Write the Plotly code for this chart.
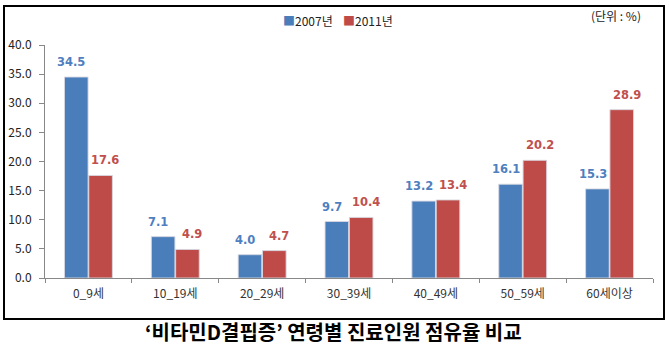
import plotly.graph_objects as go

categories = ["0_9세", "10_19세", "20_29세", "30_39세", "40_49세", "50_59세", "60세이상"]
y2007 = [34.5, 7.1, 4.0, 9.7, 13.2, 16.1, 15.3]
y2011 = [17.6, 4.9, 4.7, 10.4, 13.4, 20.2, 28.9]
series_names = ["2007년", "2011년"]
yticks = [0, 5, 10, 15, 20, 25, 30, 35, 40]

FONT = "Noto Sans CJK KR"
BLUE = "#4A7EBB"
RED = "#BE4B48"
BLUE_T = "#4F7FBF"
RED_T = "#C0504D"

L, R, T, B = 45, 16, 45, 75
W, H = 669, 353
pw = W - L - R
ph = H - T - B

def px(x):
    return (x - L) / pw

def py(y):
    return (H - B - y) / ph

fig = go.Figure()
annotations = []
for i, (name, vals, col, tcol) in enumerate([(series_names[0], y2007, BLUE, BLUE_T),
                                              (series_names[1], y2011, RED, RED_T)]):
    fig.add_trace(go.Bar(
        x=categories, y=vals, name=name, offsetgroup=str(i),
        marker=dict(color=col, line=dict(color="rgba(215,215,225,0.9)", width=1)),
        showlegend=False,
    ))
    off = -17 if i == 0 else 17
    for c, v in zip(categories, vals):
        annotations.append(dict(
            x=c, y=v, xref="x", yref="y", text=f"<b>{v:.1f}</b>", showarrow=False,
            xshift=off, yshift=15, yanchor="middle", xanchor="center",
            font=dict(size=11.5, family="DejaVu Sans", color=tcol)))

annotations += [
    dict(text=f"<span style='color:{BLUE}'>■</span>{series_names[0]}", xref="paper", yref="paper",
         x=px(281), y=py(20), xanchor="left", yanchor="middle", showarrow=False,
         font=dict(size=12, family=FONT, color="#222")),
    dict(text=f"<span style='color:{RED}'>■</span>{series_names[1]}", xref="paper", yref="paper",
         x=px(341), y=py(20), xanchor="left", yanchor="middle", showarrow=False,
         font=dict(size=12, family=FONT, color="#222")),
    dict(text="(단위 : %)", xref="paper", yref="paper", x=px(643), y=py(16),
         xanchor="right", yanchor="middle", showarrow=False,
         font=dict(size=12, family=FONT, color="#222")),
    dict(text="<b>‘비타민D결핍증’ 연령별 진료인원 점유율 비교</b>", xref="paper", yref="paper",
         x=px(333), y=py(331), xanchor="center", yanchor="middle", showarrow=False,
         font=dict(size=20, family=FONT, color="black")),
]

fig.update_layout(
    width=W, height=H,
    margin=dict(l=L, r=R, t=T, b=B),
    paper_bgcolor="white", plot_bgcolor="white",
    font=dict(family=FONT, size=11, color="#222"),
    barmode="group", bargap=0.44, bargroupgap=0.03,
    showlegend=False,
    xaxis=dict(showline=True, linecolor="#888", linewidth=1, ticks="outside",
               tickson="boundaries", ticklen=4, tickcolor="#888", ticklabelstandoff=5,
               automargin=False,
               tickfont=dict(size=12, family=FONT, color="#333"), showgrid=False),
    yaxis=dict(range=[0, 40], tickvals=yticks, tickformat=".1f", showline=True,
               linecolor="#888", linewidth=1, ticks="outside", ticklen=5,
               tickcolor="#888", showgrid=False, zeroline=False, ticklabelstandoff=5,
               automargin=False,
               tickfont=dict(size=12, family=FONT, color="#222")),
    shapes=[dict(type="rect", xref="paper", yref="paper",
                 x0=px(4), x1=px(664), y0=py(319), y1=py(6),
                 line=dict(color="black", width=2), fillcolor="rgba(0,0,0,0)")],
    annotations=annotations,
)

fig.write_html("out.html")
